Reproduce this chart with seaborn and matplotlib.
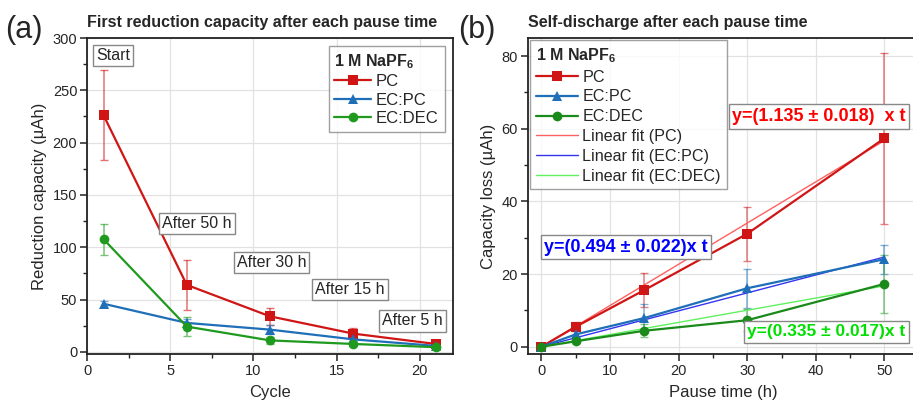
import matplotlib
matplotlib.use("Agg")
import matplotlib.pyplot as plt
from matplotlib.ticker import MultipleLocator
import numpy as np
import pandas as pd
import seaborn as sns

# ---- data: first reduction capacity per cycle (panel a) ----
cycles = [1, 6, 11, 16, 21]
cap_pc = [226, 64, 34, 17.5, 7.5]
cap_pc_err = [43, 24, 8, 5.5, 2]
cap_ecpc = [46, 27.7, 21.3, 12, 5.7]
cap_ecpc_err = [3, 4, 4, 2, 1.5]
cap_ecdec = [107.6, 24.2, 11, 7.6, 4.5]
cap_ecdec_err = [15, 9, 3, 2, 1.5]
pause_labels = ["Start", "After 50 h", "After 30 h", "After 15 h", "After 5 h"]

# ---- data: capacity loss vs pause time (panel b) ----
pause_h = [0, 5, 15, 30, 50]
loss_pc = [0, 5.5, 15.6, 31.1, 57.4]
loss_pc_err = [0, 1.3, 4.7, 7.5, 23.5]
loss_ecpc = [0, 3.4, 7.9, 16.1, 24.1]
loss_ecpc_err = [0, 0.8, 3.9, 5.4, 4]
loss_ecdec = [0, 1.5, 4.4, 7.3, 17.3]
loss_ecdec_err = [0, 0.6, 1.8, 3, 8]
fit_slope = {"PC": 1.135, "EC:PC": 0.494, "EC:DEC": 0.335}
fit_err = {"PC": 0.018, "EC:PC": 0.022, "EC:DEC": 0.017}

series = ["PC", "EC:PC", "EC:DEC"]
colors = {"PC": "#d01515", "EC:PC": "#1f6fb8", "EC:DEC": "#1f9a1f"}
colors_b = {"PC": "#d01515", "EC:PC": "#1f6fb8", "EC:DEC": "#1a8a1a"}
fit_colors = {"PC": "#ff6060", "EC:PC": "#3535f0", "EC:DEC": "#60f060"}
text_colors = {"PC": "#ff0000", "EC:PC": "#0000ff", "EC:DEC": "#00e000"}
markers = {"PC": "s", "EC:PC": "^", "EC:DEC": "o"}

df_a = pd.DataFrame({
    "Cycle": cycles * 3,
    "cap": cap_pc + cap_ecpc + cap_ecdec,
    "err": cap_pc_err + cap_ecpc_err + cap_ecdec_err,
    "solvent": sum([[s] * len(cycles) for s in series], []),
})
df_b = pd.DataFrame({
    "t": pause_h * 3,
    "loss": loss_pc + loss_ecpc + loss_ecdec,
    "err": loss_pc_err + loss_ecpc_err + loss_ecdec_err,
    "solvent": sum([[s] * len(pause_h) for s in series], []),
})

sns.set_theme(style="whitegrid")
plt.rcParams["font.family"] = ["Liberation Sans", "DejaVu Sans"]
plt.rcParams["mathtext.fontset"] = "custom"
plt.rcParams["mathtext.rm"] = "Liberation Sans"
plt.rcParams["mathtext.bf"] = "Liberation Sans:bold"

fig = plt.figure(figsize=(9.13, 4.03), dpi=100)
ax1 = fig.add_axes([87 / 913, 49 / 403, 366 / 913, 316 / 403])
ax2 = fig.add_axes([527.7 / 913, 49 / 403, 391 / 913, 316 / 403])


def style_axes(ax):
    ax.set_facecolor("white")
    ax.grid(True, which="major", color="#e2e2e2", linewidth=0.9)
    for sp in ax.spines.values():
        sp.set_color("#222222")
        sp.set_linewidth(1.3)
    ax.tick_params(which="both", direction="out", color="#222222",
                   left=True, bottom=True, labelsize=10.5, pad=2)
    ax.tick_params(which="major", length=5, width=1.1)
    ax.tick_params(which="minor", length=3, width=1.0)


# ---- panel (a) ----
for s in series:
    d = df_a[df_a.solvent == s]
    ax1.errorbar(d["Cycle"], d["cap"], yerr=d["err"], fmt="none",
                 ecolor=colors[s], alpha=0.6, capsize=3, elinewidth=1.1, zorder=2)
    sns.lineplot(data=d, x="Cycle", y="cap", ax=ax1, color=colors[s],
                 marker=markers[s], markersize=7, markeredgewidth=0,
                 linewidth=1.6, label=s, zorder=3)

ax1.set_xlim(0, 22)
ax1.set_ylim(-2, 300)
ax1.xaxis.set_major_locator(MultipleLocator(5))
ax1.xaxis.set_minor_locator(MultipleLocator(2.5))
ax1.yaxis.set_major_locator(MultipleLocator(50))
ax1.yaxis.set_minor_locator(MultipleLocator(25))
style_axes(ax1)
ax1.set_xlabel("Cycle", fontsize=12, labelpad=5)
ax1.set_ylabel("Reduction capacity (\u00b5Ah)", fontsize=12, labelpad=4)
ax1.set_title("First reduction capacity after each pause time",
              fontsize=11.5, fontweight="bold", loc="left", pad=8)

box = dict(boxstyle="square,pad=0.2", facecolor="white",
           edgecolor="#888888", linewidth=1.0)
label_pos = [(1.56, 283, "center"), (4.5, 123, "left"), (9.0, 85.5, "left"),
             (13.7, 59.7, "left"), (17.75, 29.6, "left")]
for txt, (x, y, ha) in zip(pause_labels, label_pos):
    ax1.text(x, y, txt, fontsize=11.5, ha=ha, va="center", bbox=box, zorder=5)

leg1 = ax1.legend(loc="upper right", title="1 M NaPF$_\\mathbf{6}$",
                  fontsize=12, frameon=True, handlelength=2.2,
                  handletextpad=0.3, labelspacing=0.2, borderpad=0.35,
                  borderaxespad=0.5, fancybox=False, alignment="left")
leg1.get_title().set_fontweight("bold")
leg1.get_title().set_fontsize(11.5)
leg1.get_frame().set_edgecolor("#888888")
leg1.get_frame().set_linewidth(1.0)

# ---- panel (b) ----
tt = np.array([0, 50])
for s in series:
    d = df_b[df_b.solvent == s]
    ax2.errorbar(d["t"], d["loss"], yerr=d["err"], fmt="none",
                 ecolor=colors[s], alpha=0.55, capsize=3, elinewidth=1.1, zorder=2)
    sns.lineplot(data=d, x="t", y="loss", ax=ax2, color=colors_b[s],
                 marker=markers[s], markersize=7, markeredgewidth=0,
                 linewidth=1.6, label=s, zorder=3)
for s in series:
    sns.lineplot(x=tt, y=fit_slope[s] * tt, ax=ax2, color=fit_colors[s],
                 linewidth=1.0, label=f"Linear fit ({s})", zorder=2.5)

ax2.set_xlim(-2, 55)
ax2.set_ylim(-2, 85)
ax2.xaxis.set_major_locator(MultipleLocator(10))
ax2.xaxis.set_minor_locator(MultipleLocator(5))
ax2.yaxis.set_major_locator(MultipleLocator(20))
ax2.yaxis.set_minor_locator(MultipleLocator(10))
style_axes(ax2)
ax2.set_xlabel("Pause time (h)", fontsize=12, labelpad=5)
ax2.set_ylabel("Capacity loss (\u00b5Ah)", fontsize=12, labelpad=4)
ax2.set_title("Self-discharge after each pause time",
              fontsize=11.5, fontweight="bold", loc="left", pad=8)

fit_text_pos = {"PC": (27.8, 63.4, "  x t", 13), "EC:PC": (0.4, 27.4, "x t", 13),
                "EC:DEC": (30.0, 4.1, "x t", 12.5)}
for s in series:
    x, y, tail, fs = fit_text_pos[s]
    ax2.text(x, y, f"y=({fit_slope[s]:.3f} \u00b1 {fit_err[s]:.3f}){tail}",
             fontsize=fs, fontweight="bold", color=text_colors[s],
             ha="left", va="center", bbox=box, zorder=5)

leg2 = ax2.legend(loc="upper left", title="1 M NaPF$_\\mathbf{6}$",
                  fontsize=11.6, frameon=True, handlelength=2.6,
                  handletextpad=0.3, labelspacing=0.3, borderpad=0.35,
                  borderaxespad=0.15, fancybox=False, alignment="left")
leg2.get_title().set_fontweight("bold")
leg2.get_title().set_fontsize(11.5)
leg2.get_frame().set_edgecolor("#888888")
leg2.get_frame().set_linewidth(1.0)

fig.text(5 / 913, 1 - 38 / 403, "(a)", fontsize=22)
fig.text(458 / 913, 1 - 38 / 403, "(b)", fontsize=22)

fig.savefig("out.png", dpi=100)
